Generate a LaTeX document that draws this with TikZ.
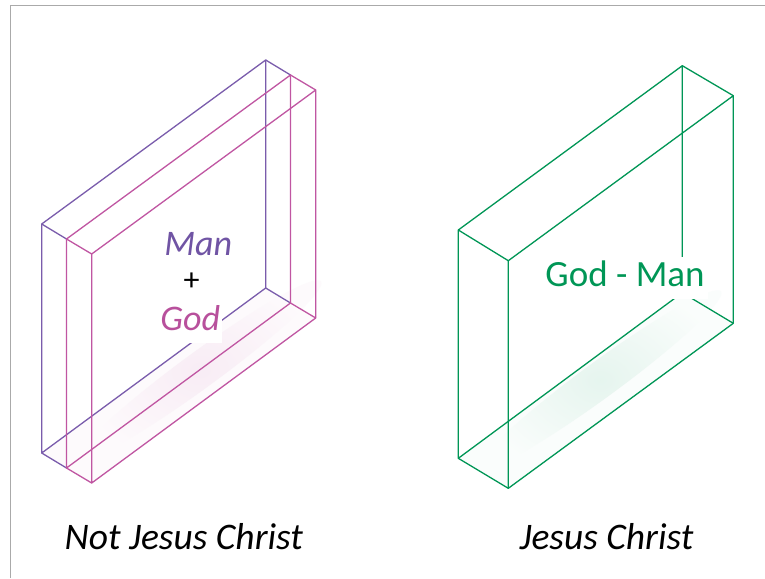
\documentclass[tikz,border=0pt]{standalone}
\usepackage{fontspec}
\setmainfont{Carlito}
\definecolor{purp}{RGB}{122,92,172}
\definecolor{pnk}{RGB}{192,86,162}
\definecolor{grn}{RGB}{0,150,86}
\definecolor{mantxt}{RGB}{112,84,164}
\definecolor{godtxt}{RGB}{184,80,156}
\definecolor{frame}{RGB}{170,170,170}
\begin{document}
\begin{tikzpicture}[x=1pt,y=-1pt,
  edgeP/.style={draw=purp,line width=1.3pt,line join=round},
  edgeK/.style={draw=pnk,line width=1.3pt,line join=round},
  edgeG/.style={draw=grn,line width=1.3pt,line join=round},
  lbl/.style={inner sep=0pt,anchor=base,font=\fontsize{37.5}{44}\selectfont\itshape},
  mid/.style={inner sep=0pt,anchor=base,font=\fontsize{36}{44}\selectfont\itshape},
  inlbl/.style={inner sep=0pt,anchor=base,font=\fontsize{37}{44}\selectfont}]
\useasboundingbox (0,0) rectangle (765,578);
\fill[white] (0,0) rectangle (765,578);
\draw[frame,line width=1pt] (10.5,578) -- (10.5,5.5) -- (765,5.5);
% left box vertices
\coordinate (a0) at (41.7,224);  \coordinate (b0) at (265.7,60);
\coordinate (c0) at (265.7,288); \coordinate (d0) at (41.7,453);
\coordinate (a1) at (66.5,239);  \coordinate (b1) at (290.5,75);
\coordinate (c1) at (290.5,303); \coordinate (d1) at (66.5,468);
\coordinate (a2) at (91.7,254);  \coordinate (b2) at (315.7,90);
\coordinate (c2) at (315.7,318); \coordinate (d2) at (91.7,483);
% right box vertices
\coordinate (ga) at (458.3,230);   \coordinate (gb) at (682.3,65.7);
\coordinate (gh) at (682.3,292.7); \coordinate (ge) at (458.3,458.3);
\coordinate (gd) at (508.3,260.7); \coordinate (gc) at (733.3,95.7);
\coordinate (gg) at (733.3,323.3); \coordinate (gf) at (508.3,488.3);
% glows
\fill[pnk!3] (d0) -- (c0) -- (c2) -- (d2) -- cycle;
\shade[inner color=pnk!11,outer color=pnk!3,rotate around={36.2:(200,370)}] (200,370) ellipse [x radius=150, y radius=18];
\fill[grn!2] (ge) -- (gh) -- (gg) -- (gf) -- cycle;
\shade[inner color=grn!10,outer color=grn!2,rotate around={36.2:(600,380)}] (600,380) ellipse [x radius=150, y radius=18];
% left box edges
\draw[edgeP] (a0) -- (b0) -- (c0) -- (d0) -- cycle;
\draw[edgeP] (a0) -- (a1) (b0) -- (b1) (c0) -- (c1) (d0) -- (d1);
\draw[edgeK] (a1) -- (b1) -- (c1) -- (d1) -- cycle;
\draw[edgeK] (a1) -- (a2) (b1) -- (b2) (c1) -- (c2) (d1) -- (d2);
\draw[edgeK] (a2) -- (b2) -- (c2) -- (d2) -- cycle;
% right box edges
\draw[edgeG] (ga) -- (gb) -- (gh) -- (ge) -- cycle;
\draw[edgeG] (ga) -- (gd) (gb) -- (gc) (gh) -- (gg) (ge) -- (gf);
\draw[edgeG] (gd) -- (gc) -- (gg) -- (gf) -- cycle;
% inner labels
\node[mid,text=mantxt] (man) at (198.3,255) {Man};
\node[inner sep=0pt,font=\fontsize{32}{36}\selectfont] (plus) at (191.7,282) {+};
\node[mid,text=godtxt,fill=white,text depth=13pt,inner xsep=1.5pt] (god) at (190.3,330) {God};
\node[inlbl,text=grn,fill=white,text depth=12.5pt,text height=30pt,inner xsep=3pt] (gm) at (625,286.7) {God - Man};
% captions
\node[lbl] (cap1) at (183.8,549.3) {Not Jesus Christ};
\node[lbl] (cap2) at (606.5,549.3) {Jesus Christ};
\end{tikzpicture}
\end{document}
